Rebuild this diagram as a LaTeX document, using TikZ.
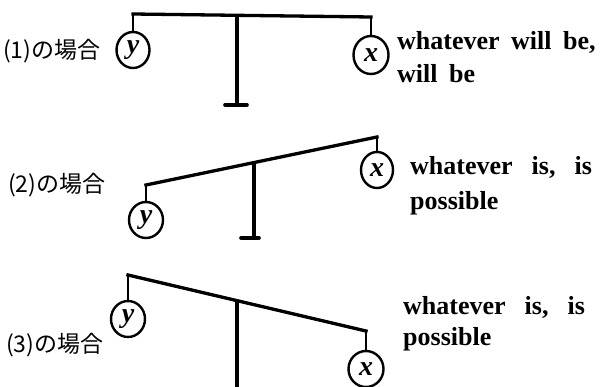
\documentclass[tikz,border=0pt]{standalone}
\usepackage{fontspec}
\setmainfont{Liberation Serif}
\newfontfamily\jpfont{Noto Sans CJK JP}
\newcommand\narrowgap{\spaceskip=11.5pt plus 0pt\relax}
\newcommand\widegap{\spaceskip=19pt plus 0pt\relax}
\usetikzlibrary{shapes.geometric}
\tikzset{
  beam/.style={line width=3.3pt, line cap=rect},
  hanger/.style={line width=2.6pt},
  post/.style={line width=3.3pt},
  foot/.style={line width=3.6pt, line cap=round},
  weight/.style={draw, ellipse, line width=2.4pt, inner sep=0pt,
    font=\fontsize{28}{28}\selectfont\bfseries\itshape},
  caselabel/.style={anchor=west, inner sep=0pt, font=\jpfont\fontsize{23}{23}\selectfont},
  saying/.style={anchor=base west, inner sep=0pt,
    font=\fontsize{26}{26}\selectfont\bfseries, execute at begin node=\narrowgap},
  widesaying/.style={anchor=base west, inner sep=0pt,
    font=\fontsize{26}{26}\selectfont\bfseries, execute at begin node=\widegap}
}
\begin{document}
\begin{tikzpicture}[x=1pt,y=-1pt]
\useasboundingbox (0,0) rectangle (610,387);
\clip (0,0) rectangle (610,387);
% ---- case 1
\coordinate (b1l) at (133,14);
\coordinate (b1r) at (371,17);
\coordinate (p1t) at (237,15.5);
\coordinate (p1b) at (237,105);
\coordinate (f1l) at (225,105);
\coordinate (f1r) at (247,105);
\node[weight, minimum width=33pt, minimum height=36pt] (y1) at (133,50) {y};
\node[weight, minimum width=35pt, minimum height=38pt] (x1) at (371,55) {x};
\draw[beam] (b1l) -- (b1r);
\draw[hanger] (b1l) -- (y1.north);
\draw[hanger] (b1r) -- (x1.north);
\draw[post] (p1t) -- (p1b);
\draw[foot] (f1l) -- (f1r);
\node[caselabel] (c1) at (3,51) {(1)の場合};
\node[saying] (s1a) at (397,50) {whatever will be,};
\node[saying] (s1b) at (397,83) {will be};
% ---- case 2
\coordinate (b2l) at (146,185);
\coordinate (b2r) at (377,137);
\coordinate (p2t) at (254,163);
\coordinate (p2b) at (254,238);
\coordinate (f2l) at (241,238);
\coordinate (f2r) at (259,238);
\node[weight, minimum width=34pt, minimum height=36pt] (y2) at (146,220) {y};
\node[weight, minimum width=32pt, minimum height=36pt] (x2) at (377,170) {x};
\draw[beam] (b2l) -- (b2r);
\draw[hanger] (b2l) -- (y2.north);
\draw[hanger] (b2r) -- (x2.north);
\draw[post] (p2t) -- (p2b);
\draw[foot] (f2l) -- (f2r);
\node[caselabel] (c2) at (8,185) {(2)の場合};
\node[widesaying] (s2a) at (410,175) {whatever is, is};
\node[widesaying] (s2b) at (410,210) {possible};
% ---- case 3
\coordinate (b3l) at (128,275);
\coordinate (b3r) at (366,331);
\coordinate (p3t) at (237,300.5);
\coordinate (p3b) at (237,392);
\node[weight, minimum width=34pt, minimum height=36pt] (y3) at (128,319) {y};
\node[weight, minimum width=35pt, minimum height=36pt] (x3) at (366,369) {x};
\draw[beam] (b3l) -- (b3r);
\draw[hanger] (b3l) -- (y3.north);
\draw[hanger] (b3r) -- (x3.north);
\draw[post] (p3t) -- (p3b);
\node[caselabel] (c3) at (6,345) {(3)の場合};
\node[widesaying] (s3a) at (403,314) {whatever is, is};
\node[widesaying] (s3b) at (403,345) {possible};
\end{tikzpicture}
\end{document}
